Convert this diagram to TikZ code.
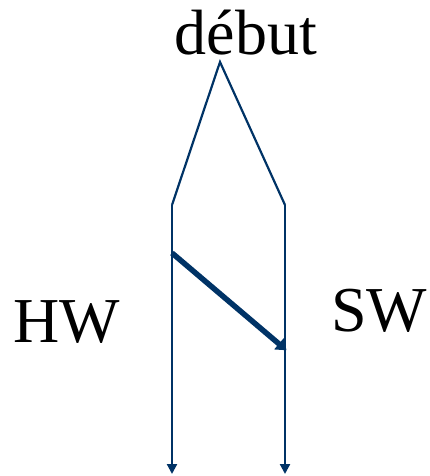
\documentclass[tikz,border=0pt]{standalone}
\usepackage{fontspec}
\setmainfont{Liberation Serif}
\usetikzlibrary{arrows.meta}
\definecolor{navy}{HTML}{003366}
\tikzset{
  thinline/.style={draw=navy, line width=2.2pt},
  timeline/.style={thinline, -{Triangle[length=10pt,width=10pt]}},
  msg/.style={draw=navy, line width=5.5pt, -{Triangle[length=10pt,width=14pt]}, shorten >=-2pt},
  lbl/.style={font=\fontsize{64}{72}\selectfont, inner sep=0pt, anchor=base}
}
\begin{document}
\begin{tikzpicture}[x=1pt,y=-1pt]
\useasboundingbox (0,0) rectangle (429,476);
\coordinate (apex) at (220,62);
\coordinate (lt) at (172,205);
\coordinate (rt) at (285,205);
\coordinate (lb) at (172,474);
\coordinate (rb) at (285,474);
\coordinate (ms) at (172,253);
\coordinate (me) at (285,349);
\draw[thinline] (lt) -- (apex) -- (rt);
\draw[timeline] (lt) -- (lb);
\draw[timeline] (rt) -- (rb);
\draw[msg] (ms) -- (me);
\node[lbl] (debut) at (246,55) {début};
\node[lbl] (hw) at (67,342) {HW};
\node[lbl] (sw) at (379,331) {SW};
\end{tikzpicture}
\end{document}
